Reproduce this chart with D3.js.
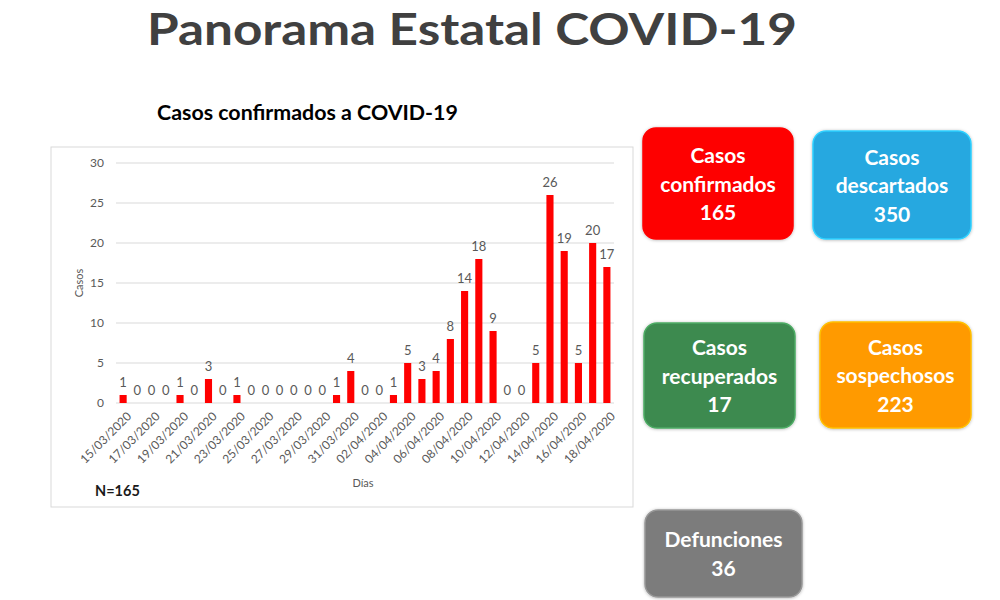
<!DOCTYPE html>
<html>
<head>
<meta charset="utf-8">
<script src="https://cdn.jsdelivr.net/npm/d3@7"></script>
<style>
  body { margin: 0; background: #fff; }
  text { font-family: Lato, "Open Sans", sans-serif; }
</style>
</head>
<body>
<script>
// Daily confirmed cases, 15/03/2020 .. 18/04/2020
var dates = ["15/03/2020","16/03/2020","17/03/2020","18/03/2020","19/03/2020","20/03/2020","21/03/2020",
             "22/03/2020","23/03/2020","24/03/2020","25/03/2020","26/03/2020","27/03/2020","28/03/2020",
             "29/03/2020","30/03/2020","31/03/2020","01/04/2020","02/04/2020","03/04/2020","04/04/2020",
             "05/04/2020","06/04/2020","07/04/2020","08/04/2020","09/04/2020","10/04/2020","11/04/2020",
             "12/04/2020","13/04/2020","14/04/2020","15/04/2020","16/04/2020","17/04/2020","18/04/2020"];
var cases = [1,0,0,0,1,0,3,0,1,0,0,0,0,0,0,1,4,0,0,1,5,3,4,8,14,18,9,0,0,5,26,19,5,20,17];
var yTicks = [0,5,10,15,20,25,30];

// Summary cards
var cardLabels = [["Casos","confirmados"],["Casos","descartados"],["Casos","recuperados"],["Casos","sospechosos"],["Defunciones"]];
var cardValues = [165, 350, 17, 223, 36];
var cardColors = ["#fe0000", "#25a8e0", "#3d8a50", "#ff9a00", "#7b7b7b"];

// card boxes on the page
var cardBoxes = [
  {x: 643, y: 128, w: 150, h: 111},
  {x: 813, y: 131, w: 158, h: 108},
  {x: 644, y: 323, w: 151, h: 105},
  {x: 820, y: 322, w: 151, h: 106},
  {x: 645, y: 510, w: 157, h: 87}
];

const width = 1000, height = 600;

const svg = d3.select("body").append("svg")
    .attr("width", width)
    .attr("height", height);

svg.append("rect").attr("width", width).attr("height", height).attr("fill", "#fff");

// scale a text's font so it spans a given width
function fitWidth(sel, target) {
    let size = parseFloat(sel.style("font-size"));
    let len = sel.node().getComputedTextLength();
    sel.style("font-size", (size * target / len) + "px");
}

// Title (stretched to the reference width, kept inside the top edge)
svg.append("text")
    .attr("x", 147).attr("y", 44.5)
    .attr("textLength", 650)
    .attr("lengthAdjust", "spacingAndGlyphs")
    .style("font-size", "44px").style("font-weight", "bold")
    .style("fill", "#404040")
    .text("Panorama Estatal COVID-19");

// Chart frame
svg.append("rect")
    .attr("x", 51).attr("y", 147)
    .attr("width", 582).attr("height", 360)
    .attr("fill", "#fff")
    .attr("stroke", "#d9d9d9");

const subtitle = svg.append("text")
    .attr("x", 157).attr("y", 120)
    .style("font-size", "19px").style("font-weight", "bold")
    .style("fill", "#000")
    .text("Casos confirmados a COVID-19");
fitWidth(subtitle, 301);

// Scales
const x = d3.scaleBand()
    .domain(dates)
    .range([116, 614])
    .paddingInner(0.5)
    .paddingOuter(0.25);

const y = d3.scaleLinear()
    .domain([0, 30])
    .range([403, 163]);

// Gridlines
svg.append("g").selectAll("line")
    .data(yTicks)
    .enter().append("line")
    .attr("x1", 116).attr("x2", 614)
    .attr("y1", d => y(d)).attr("y2", d => y(d))
    .attr("stroke", "#d9d9d9")
    .attr("stroke-width", 1);

// Y axis labels
const yAxis = svg.append("g")
    .attr("transform", "translate(110,0)")
    .call(d3.axisLeft(y).tickValues(yTicks).tickSize(0).tickPadding(6));
yAxis.select(".domain").remove();
yAxis.selectAll("text")
    .style("font-family", "Lato, sans-serif")
    .style("font-size", "12px")
    .style("fill", "#595959");

// Bars
svg.append("g").selectAll("rect")
    .data(cases)
    .enter().append("rect")
    .attr("x", (d, i) => x(dates[i]))
    .attr("y", d => y(d))
    .attr("width", x.bandwidth())
    .attr("height", d => y(0) - y(d))
    .attr("fill", "#ff0000");

// Value labels
svg.append("g").selectAll("text")
    .data(cases)
    .enter().append("text")
    .attr("x", (d, i) => x(dates[i]) + x.bandwidth() / 2)
    .attr("y", d => y(d) - 8)
    .attr("text-anchor", "middle")
    .style("font-size", "13px")
    .style("fill", "#595959")
    .text(d => d);

// X axis labels, every second day, rotated
const xAxis = svg.append("g")
    .attr("transform", "translate(0,404)")
    .call(d3.axisBottom(x)
        .tickValues(dates.filter((d, i) => i % 2 === 0))
        .tickSize(0));
xAxis.select(".domain").remove();
xAxis.selectAll("text")
    .style("font-family", "Lato, sans-serif")
    .style("font-size", "12px")
    .style("fill", "#595959")
    .attr("text-anchor", "end")
    .attr("dy", "0.35em")
    .attr("transform", "translate(4,8) rotate(-45)");

// Axis titles
svg.append("text")
    .attr("transform", "translate(83,283) rotate(-90)")
    .attr("text-anchor", "middle")
    .style("font-size", "11px").style("fill", "#595959")
    .text("Casos");

svg.append("text")
    .attr("x", 363).attr("y", 487)
    .attr("text-anchor", "middle")
    .style("font-size", "11px").style("fill", "#595959")
    .text("Días");

svg.append("text")
    .attr("x", 95).attr("y", 496)
    .style("font-size", "14.5px").style("font-weight", "bold")
    .style("fill", "#1a1a1a")
    .text("N=165");

// Cards
const defs = svg.append("defs");
defs.append("filter").attr("id", "shadow")
    .attr("x", "-10%").attr("y", "-10%").attr("width", "120%").attr("height", "120%")
    .append("feDropShadow")
    .attr("dx", 0).attr("dy", 0.5)
    .attr("stdDeviation", 1.5)
    .attr("flood-color", "#000")
    .attr("flood-opacity", 0.3);

const cards = svg.append("g").selectAll("g")
    .data(cardValues)
    .enter().append("g")
    .attr("transform", (d, i) => `translate(${cardBoxes[i].x},${cardBoxes[i].y})`);

cards.append("rect")
    .attr("width", (d, i) => cardBoxes[i].w)
    .attr("height", (d, i) => cardBoxes[i].h)
    .attr("rx", 13)
    .attr("fill", (d, i) => cardColors[i])
    .attr("stroke", (d, i) => d3.color(cardColors[i]).brighter(0.6))
    .attr("stroke-width", 1.5)
    .attr("filter", "url(#shadow)");

cards.each(function(d, i) {
    const lines = cardLabels[i].concat([String(d)]);
    const box = cardBoxes[i];
    const lh = 28.5;
    const first = box.h / 2 - (lines.length - 1) * lh / 2 + 8;
    d3.select(this).selectAll("text")
        .data(lines)
        .enter().append("text")
        .attr("x", box.w / 2)
        .attr("y", (t, j) => first + j * lh)
        .attr("text-anchor", "middle")
        .style("font-size", "21px").style("font-weight", "bold")
        .style("fill", "#fff")
        .text(t => t);
});
</script>
</body>
</html>
